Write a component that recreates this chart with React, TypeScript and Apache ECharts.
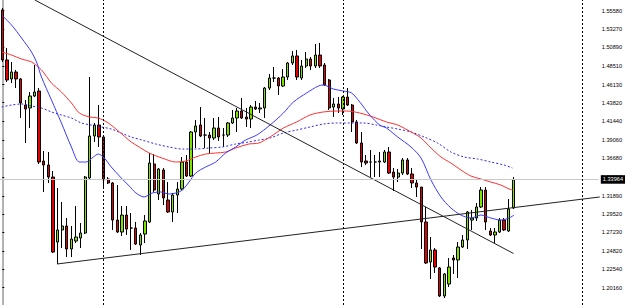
import React, { useEffect, useRef } from "react";
import * as echarts from "echarts";

// ---- data ----
const OPEN = [
  1.5567, 1.4928, 1.4685, 1.4774, 1.4685, 1.4352, 1.4314, 1.4467, 1.4531, 1.3636,
  1.3585, 1.3431, 1.26, 1.2754, 1.2805, 1.2511, 1.2613, 1.2651, 1.2715, 1.3419,
  1.3956, 1.4096, 1.3943, 1.3406, 1.3355, 1.2881, 1.2728, 1.2945, 1.2779, 1.2779,
  1.2562, 1.2702, 1.2856, 1.3598, 1.3214, 1.3521, 1.3137, 1.2984, 1.3201, 1.3278,
  1.3623, 1.3444, 1.4007, 1.4096, 1.3968, 1.3968, 1.393, 1.4058, 1.3968, 1.3968,
  1.4122, 1.4186, 1.4275, 1.4199, 1.4173, 1.4326, 1.4301, 1.4314, 1.4569, 1.4697,
  1.4697, 1.4595, 1.471, 1.4889, 1.4979, 1.4697, 1.4851, 1.494, 1.4851, 1.4991,
  1.4864, 1.4672, 1.4326, 1.4365, 1.4301, 1.4454, 1.4352, 1.4135, 1.3866, 1.3636,
  1.3623, 1.3623, 1.3623, 1.3623, 1.3751, 1.3495, 1.3431, 1.3482, 1.3649, 1.347,
  1.3355, 1.3303, 1.2856, 1.2344, 1.2498, 1.2268, 1.191, 1.2063, 1.2395, 1.237,
  1.2536, 1.2626, 1.2881, 1.2907, 1.3048, 1.3265, 1.2741, 1.269, 1.2728, 1.2881,
  1.2741, 1.3035,
];
const CLOSE = [
  1.4928, 1.4672, 1.4774, 1.4685, 1.4378, 1.4301, 1.4467, 1.4518, 1.3623, 1.3585,
  1.3431, 1.2472, 1.2754, 1.2805, 1.2511, 1.2638, 1.2664, 1.2715, 1.3431, 1.3956,
  1.4096, 1.3943, 1.3393, 1.3355, 1.2881, 1.2728, 1.2945, 1.2766, 1.2779, 1.2574,
  1.269, 1.2869, 1.361, 1.3265, 1.3534, 1.3163, 1.2984, 1.3201, 1.3278, 1.3623,
  1.3444, 1.4007, 1.4084, 1.3956, 1.3968, 1.393, 1.4058, 1.3943, 1.3968, 1.4122,
  1.4186, 1.4275, 1.4186, 1.4173, 1.4326, 1.4301, 1.4314, 1.4569, 1.4697, 1.4697,
  1.4595, 1.471, 1.4889, 1.4979, 1.471, 1.4851, 1.494, 1.4851, 1.4991, 1.4851,
  1.4608, 1.4314, 1.4365, 1.4314, 1.4454, 1.4352, 1.4135, 1.3866, 1.3623, 1.361,
  1.3623, 1.3623, 1.3636, 1.3751, 1.3482, 1.3431, 1.3482, 1.3649, 1.347, 1.3355,
  1.3303, 1.2856, 1.2332, 1.2498, 1.228, 1.191, 1.2191, 1.228, 1.237, 1.2536,
  1.2626, 1.2984, 1.2907, 1.3048, 1.3265, 1.2856, 1.269, 1.2728, 1.2881, 1.2754,
  1.3022, 1.33964,
];
const LOW = [
  1.4902, 1.4646, 1.4633, 1.4569, 1.4186, 1.3866, 1.4058, 1.4454, 1.3598, 1.324,
  1.3355, 1.2459, 1.2319, 1.2523, 1.2408, 1.2408, 1.2587, 1.2523, 1.2702, 1.3406,
  1.3879, 1.3815, 1.3291, 1.3342, 1.2754, 1.2715, 1.2677, 1.269, 1.2498, 1.2562,
  1.2434, 1.2587, 1.2843, 1.324, 1.3137, 1.3073, 1.2971, 1.2856, 1.2971, 1.3265,
  1.3431, 1.3431, 1.3802, 1.3943, 1.3802, 1.3725, 1.3904, 1.3892, 1.3815, 1.3943,
  1.4109, 1.4007, 1.4173, 1.4071, 1.4058, 1.4288, 1.425, 1.4186, 1.4544, 1.4646,
  1.448, 1.4582, 1.4672, 1.4864, 1.4672, 1.4672, 1.4825, 1.48, 1.4825, 1.4825,
  1.4595, 1.4288, 1.4199, 1.425, 1.4224, 1.4339, 1.4007, 1.3853, 1.3559, 1.3585,
  1.3431, 1.3431, 1.3431, 1.361, 1.347, 1.3252, 1.3367, 1.3457, 1.3457, 1.3291,
  1.3176, 1.2511, 1.2319, 1.2127, 1.2204, 1.1897, 1.1884, 1.2025, 1.2191, 1.214,
  1.2523, 1.2511, 1.2754, 1.2869, 1.3035, 1.2754, 1.2677, 1.2587, 1.2715, 1.2741,
  1.2728, 1.3022,
];
const HIGH = [
  1.5593, 1.5081, 1.4902, 1.48, 1.4697, 1.4416, 1.4518, 1.4864, 1.4569, 1.3764,
  1.3751, 1.3508, 1.3291, 1.3112, 1.2907, 1.2805, 1.306, 1.2843, 1.3444, 1.471,
  1.4122, 1.4352, 1.3956, 1.3431, 1.3367, 1.3329, 1.306, 1.306, 1.2971, 1.2856,
  1.2715, 1.2945, 1.3738, 1.3725, 1.3546, 1.3546, 1.3367, 1.3227, 1.3367, 1.3687,
  1.3713, 1.402, 1.416, 1.4326, 1.4186, 1.4007, 1.4186, 1.4199, 1.4058, 1.4135,
  1.4288, 1.4314, 1.4442, 1.4314, 1.4352, 1.4403, 1.4378, 1.4582, 1.4749, 1.4838,
  1.471, 1.4812, 1.4902, 1.5043, 1.5055, 1.4928, 1.503, 1.4966, 1.5132, 1.5145,
  1.4889, 1.4685, 1.4442, 1.4454, 1.4467, 1.4569, 1.4365, 1.416, 1.4007, 1.3713,
  1.3777, 1.3713, 1.3751, 1.3777, 1.3815, 1.3546, 1.3534, 1.3674, 1.3674, 1.3546,
  1.3393, 1.3303, 1.3048, 1.2664, 1.2523, 1.228, 1.2204, 1.2395, 1.2434, 1.26,
  1.269, 1.2997, 1.3009, 1.3099, 1.3303, 1.3303, 1.2779, 1.2779, 1.2907, 1.2907,
  1.315, 1.3431,
];

// moving averages read as [bar position, price]
const MA_FAST: [number, number][] = [
  [-0.15, 1.5503], [2.01, 1.5375], [4.18, 1.5209], [6.34, 1.503], [7.43, 1.4902],
  [8.51, 1.471], [10.68, 1.4416], [12.84, 1.4122], [15.01, 1.3815], [16.74, 1.3623],
  [18.25, 1.3623], [19.77, 1.3687], [20.85, 1.3725], [22.15, 1.3674], [23.67, 1.3559],
  [25.83, 1.3419], [27.57, 1.3316], [29.02, 1.3227], [30.81, 1.3176], [32.55, 1.3227],
  [34.43, 1.324], [36.23, 1.3214], [37.68, 1.3227], [39.11, 1.3265], [40.56, 1.3367],
  [42.01, 1.3482], [44.17, 1.3559], [46.34, 1.3623], [48.51, 1.3738], [50.67, 1.3815],
  [52.84, 1.3904], [55.28, 1.3968], [58.16, 1.4096], [61.07, 1.425], [63.23, 1.439],
  [66.11, 1.4506], [68.64, 1.4595], [69.73, 1.4608], [71.89, 1.4557], [74.06, 1.4531],
  [75.86, 1.4506], [77.65, 1.439], [79.82, 1.4224], [81.98, 1.4096], [83.43, 1.4058],
  [85.88, 1.3943], [88.78, 1.3815], [90.95, 1.3674], [93.11, 1.3393], [95.28, 1.3176],
  [97.44, 1.3035], [99.61, 1.2945], [101.78, 1.2907], [103.94, 1.2945], [106.11, 1.2907],
  [108.28, 1.2881], [110.07, 1.2907], [111.15, 1.2945],
];
const MA_MID: [number, number][] = [
  [-0.15, 1.503], [2.01, 1.4991], [4.18, 1.494], [6.34, 1.4902], [8.51, 1.48],
  [10.68, 1.4633], [12.84, 1.4518], [15.01, 1.4378], [16.74, 1.425], [18.9, 1.4199],
  [20.85, 1.4186], [23.02, 1.4122], [25.18, 1.402], [28.0, 1.3879], [29.73, 1.3815],
  [31.9, 1.3738], [34.71, 1.3674], [37.68, 1.3623], [39.84, 1.3636], [42.01, 1.3687],
  [44.17, 1.3725], [46.34, 1.3738], [48.51, 1.3751], [50.67, 1.3802], [53.55, 1.3853],
  [55.72, 1.3866], [58.16, 1.3943], [61.07, 1.4058], [63.94, 1.4135], [66.83, 1.4224],
  [69.73, 1.4263], [72.61, 1.4275], [74.77, 1.4275], [77.65, 1.425], [80.55, 1.4199],
  [83.43, 1.4135], [85.88, 1.4096], [88.78, 1.4007], [90.95, 1.393], [93.11, 1.3802],
  [95.28, 1.3687], [97.44, 1.361], [99.61, 1.3521], [101.78, 1.3444], [103.94, 1.3406],
  [106.11, 1.3367], [108.28, 1.3329], [110.07, 1.3278], [110.94, 1.3265],
];
const MA_SLOW: [number, number][] = [
  [-0.15, 1.4326], [2.01, 1.4352], [4.18, 1.4365], [6.34, 1.4339], [8.51, 1.4314],
  [10.68, 1.4263], [12.84, 1.4224], [15.01, 1.4186], [17.17, 1.4122], [19.34, 1.4096],
  [21.5, 1.4071], [23.67, 1.4045], [25.83, 1.3994], [28.0, 1.3943], [30.38, 1.3904],
  [33.35, 1.3853], [36.23, 1.3815], [39.11, 1.3789], [42.01, 1.3789], [44.89, 1.3802],
  [47.77, 1.3815], [50.67, 1.3853], [53.55, 1.3879], [55.72, 1.3904], [58.16, 1.393],
  [61.07, 1.3994], [63.94, 1.4032], [66.83, 1.4071], [69.73, 1.4109], [72.61, 1.4122],
  [75.49, 1.4122], [78.39, 1.4122], [81.27, 1.4096], [83.43, 1.4071], [85.88, 1.4045],
  [88.78, 1.4007], [91.66, 1.3943], [94.54, 1.3866], [97.44, 1.3751], [100.32, 1.3687],
  [103.21, 1.3662], [106.11, 1.3623], [108.99, 1.3585], [110.79, 1.3546],
];

const TREND_DOWN: [number, number][] = [[7.06, 1.5695], [111.04, 1.2453]];
const TREND_UP: [number, number][] = [[11.9, 1.2319], [129.77, 1.3176]];
const SEPARATORS = [22, 74, 126];
const LAST_PRICE = 1.33964;
const Y_TICKS = [
  1.5558, 1.5327, 1.5089, 1.4851, 1.4613, 1.4382, 1.4144, 1.3906,
  1.3668, 1.343, 1.3189, 1.2952, 1.2723, 1.2482, 1.2254, 1.2016,
];
const SLOTS = 130;

export default function App() {
  const ref = useRef<HTMLDivElement>(null);
  useEffect(() => {
    const chart = echarts.init(ref.current!, null, { renderer: "svg" });
    const categories = Array.from({ length: SLOTS }, (_, i) => String(i));
    const candles = OPEN.map((o, i) => [o, CLOSE[i], LOW[i], HIGH[i]]);
    const lineBase = {
      type: "line" as const,
      xAxisIndex: 1,
      yAxisIndex: 0,
      showSymbol: false,
      symbol: "none",
      smooth: 0.3,
      silent: true,
      z: 3,
    };
    chart.setOption({
      animation: false,
      backgroundColor: "#ffffff",
      grid: { left: -1.61, top: 0, width: 600.34, height: 305, containLabel: false },
      xAxis: [
        { type: "category", data: categories, show: false, boundaryGap: true },
        { type: "value", min: -0.5, max: SLOTS - 0.5, show: false },
      ],
      yAxis: {
        type: "value",
        position: "right",
        offset: 1.27,
        min: 1.17946,
        max: 1.56948,
        scale: true,
        splitLine: { show: false },
        axisLine: { show: true, lineStyle: { color: "#9a9a9a", width: 1.5 } },
        axisTick: {
          show: true,
          length: 2,
          customValues: Y_TICKS,
          lineStyle: { color: "#000" },
        },
        axisLabel: {
          customValues: Y_TICKS,
          formatter: (v: number) => v.toFixed(5),
          fontSize: 5.6,
          fontFamily: "Liberation Sans",
          color: "#000",
          margin: 2,
        },
      },
      series: [
        {
          type: "candlestick",
          xAxisIndex: 0,
          yAxisIndex: 0,
          data: candles,
          barWidth: 2.8,
          z: 2,
          itemStyle: {
            color: "#7ce300",
            color0: "#e00000",
            borderColor: "#000",
            borderColor0: "#000",
            borderColorDoji: "#000",
            borderWidth: 1,
          },
          markLine: {
            silent: true,
            symbol: ["none", "none"],
            lineStyle: { color: "#c8c8c8", width: 1, type: "solid" },
            label: {
              show: true,
              position: "end",
              distance: 2.3,
              formatter: () => LAST_PRICE.toFixed(5),
              backgroundColor: "#000",
              color: "#fff",
              fontSize: 5.6,
              fontFamily: "Liberation Sans",
              padding: [1.5, 2, 1, 2],
            },
            data: [{ yAxis: LAST_PRICE }],
          },
        },
        {
          ...lineBase,
          data: MA_SLOW,
          lineStyle: { color: "#2b2bf0", width: 1, type: [2, 2] },
          markLine: {
            silent: true,
            symbol: ["none", "none"],
            label: { show: false },
            lineStyle: { color: "#000", width: 1, type: [2, 2] },
            data: SEPARATORS.map((x) => ({ xAxis: x })),
          },
        },
        { ...lineBase, data: MA_MID, lineStyle: { color: "#ff3030", width: 1 } },
        { ...lineBase, data: MA_FAST, lineStyle: { color: "#3a3aff", width: 1 } },
        { ...lineBase, smooth: false, data: TREND_DOWN, lineStyle: { color: "#222", width: 1 } },
        { ...lineBase, smooth: false, data: TREND_UP, lineStyle: { color: "#222", width: 1 } },
      ],
    });
    return () => chart.dispose();
  }, []);
  return (
    <div
      ref={ref}
      style={{ position: "fixed", left: 0, top: 0, width: 625, height: 305, background: "#fff" }}
    />
  );
}
